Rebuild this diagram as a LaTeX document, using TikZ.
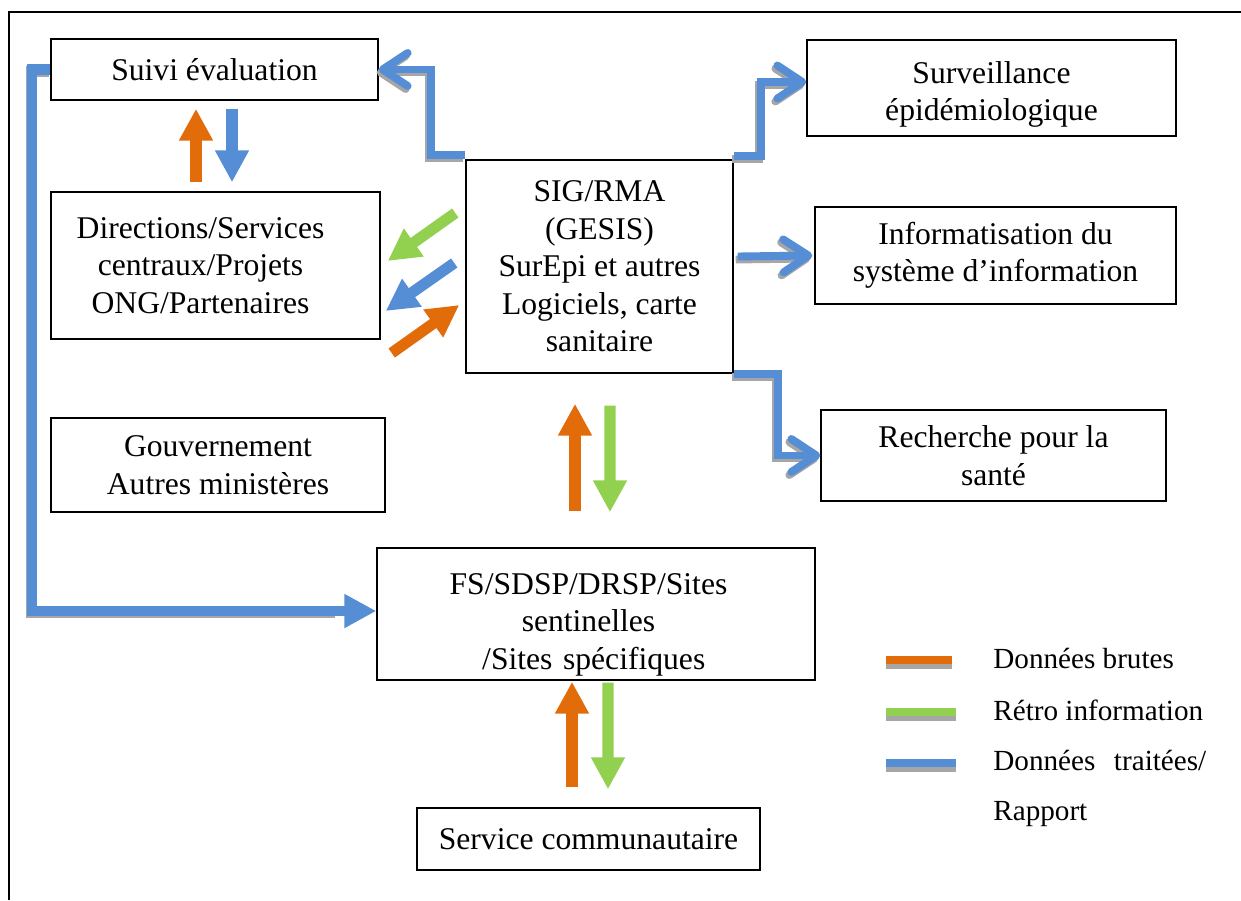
\documentclass[tikz,border=0pt]{standalone}
\usepackage{fontspec}
\setmainfont{Liberation Serif}
\usetikzlibrary{arrows.meta,calc}
\definecolor{orangeB}{RGB}{227,108,10}
\definecolor{vertR}{RGB}{146,208,80}
\definecolor{bleuT}{RGB}{85,142,213}
\definecolor{grisO}{RGB}{166,166,166}

\begin{document}
\begin{tikzpicture}[x=0.02cm, y=-0.02cm,
	boite/.style={draw, line width=0.85pt, inner sep=0pt, align=center, font=\fontsize{18}{21.3}\selectfont},
	legende/.style={inner sep=0pt, anchor=base west, font=\fontsize{16.6}{20}\selectfont},
	brute/.style={draw=orangeB, line width=6.3pt, -{Triangle[length=0.64cm, width=0.64cm]}},
	retro/.style={draw=vertR, line width=6.3pt, -{Triangle[length=0.64cm, width=0.64cm]}},
	traite/.style={draw=bleuT, line width=6.3pt, -{Triangle[length=0.64cm, width=0.64cm]}},
	coude/.style={draw=bleuT, line width=4.5pt, -{Straight Barb[round, length=0.5cm, width=0.66cm]}},
	ombre/.style={draw=grisO, line width=4.5pt, transform canvas={xshift=-0.04cm, yshift=-0.06cm}, -{Straight Barb[round, length=0.5cm, width=0.66cm]}},
	barre/.style={line width=4pt}]
	\useasboundingbox (0,0) rectangle (1241,900);
	% cadre
	\draw[line width=1.7pt] (9,900) -- (9,12) -- (1241,12);
	% boites
	\node[boite, minimum width=6.54cm, minimum height=1.22cm] (suivi)at(214.5,69.5) {Suivi évaluation};
	\node[boite, text width=6.58cm, minimum height=2.94cm] (dir)at(215.5,265.5) {\hspace*{-0.6cm}Directions/Services\\\hspace*{-0.6cm}centraux/Projets\\\hspace*{-0.6cm}ONG/Partenaires};
	\node[boite, minimum width=6.68cm, minimum height=1.88cm] (gouv)at(218,465) {Gouvernement\\Autres ministères};
	\node[boite, minimum width=5.34cm, minimum height=4.26cm] (sig)at(599.5,266.5) {SIG/RMA\\(GESIS)\\SurEpi et autres\\Logiciels, carte\\sanitaire};
	\node[boite, minimum width=7.38cm, minimum height=1.92cm] (surv)at(991.5,88) {\rule{0pt}{20pt}Surveillance\\épidémiologique};
	\node[boite, minimum width=7.22cm, minimum height=1.94cm] (info)at(995.5,255.5) {Informatisation du\\système d’information};
	\node[boite, minimum width=6.9cm, minimum height=1.82cm] (rech)at(993.5,455.5) {Recherche pour la\\santé};
	\node[boite, text width=8.76cm, minimum height=2.64cm] (fs)at(596,614) {\rule{0pt}{24pt}\hspace*{-0.3cm}FS/SDSP/DRSP/Sites\\\hspace*{-0.3cm}sentinelles\\\hspace*{-0.3cm} /Sites spécifiques};
	\node[boite, minimum width=6.86cm, minimum height=1.24cm] (serv)at(588.5,839) {Service communautaire};
	% legende
	\node[legende] (lg1)at(993,668) {Données brutes};
	\node[legende] (lg2)at(993,720) {Rétro information};
	\node[legende] (lg3)at(993,770) {\makebox[4.26cm][s]{Données traitées/}};
	\node[legende] (lg4)at(993,820) {Rapport};
	\draw[barre, grisO] ($(lg1.base west)+(-107,-3)$) -- ++(66,0);
	\draw[barre, orangeB] ($(lg1.base west)+(-107,-8)$) -- ++(66,0);
	\draw[barre, grisO] ($(lg2.base west)+(-107,-3)$) -- ++(70,0);
	\draw[barre, vertR] ($(lg2.base west)+(-107,-8)$) -- ++(70,0);
	\draw[barre, grisO] ($(lg3.base west)+(-107,-2)$) -- ++(70,0);
	\draw[barre, bleuT] ($(lg3.base west)+(-107,-7)$) -- ++(70,0);
	% fleches coudees
	\draw[ombre] ($(sig.north west)+(0,-4)$) -- ++(-34,0) |- (suivi.east);
	\draw[coude] ($(sig.north west)+(0,-4)$) -- ++(-34,0) |- (suivi.east);
	\draw[ombre] ($(sig.north east)+(0,-3)$) -- ++(27,0) |- ($(surv.west)+(0,-6)$);
	\draw[coude] ($(sig.north east)+(0,-3)$) -- ++(27,0) |- ($(surv.west)+(0,-6)$);
	\draw[ombre] ($(sig.east)+(4,-10)$) -- ($(info.west)+(-2,0)$);
	\draw[coude] ($(sig.east)+(4,-10)$) -- ($(info.west)+(-2,0)$);
	\draw[ombre] (sig.south east) -- ++(44,0) |- (rech.west);
	\draw[coude] (sig.south east) -- ++(44,0) |- (rech.west);
	\draw[draw=grisO, line width=5.7pt, transform canvas={xshift=-0.02cm, yshift=-0.04cm}] (suivi.west) -- ++(-18,0) |- ($(fs.west)+(-40,-3)$);
	\draw[draw=bleuT, line width=5.7pt, -{Triangle[length=0.64cm, width=0.64cm]}] (suivi.west) -- ++(-18,0) |- ($(fs.west)+(0,-3)$);
	% fleches droites
	\draw[brute] ($(dir.north)+(-19.5,-9)$) -- ($(suivi.south)+(-18.5,8)$);
	\draw[traite] ($(suivi.south)+(17.5,8)$) -- ($(dir.north)+(16.5,-9)$);
	\draw[retro] ($(sig.west)+(-10,-53.5)$) -- ($(dir.east)+(7,-4.5)$);
	\draw[traite] ($(sig.west)+(-11,-3.5)$) -- ($(dir.east)+(5,45.5)$);
	\draw[brute] ($(dir.east)+(11,87.5)$) -- ($(sig.west)+(-6,38.5)$);
	\draw[brute] ($(fs.north)+(-21,-36)$) -- ($(sig.south)+(-24.5,30)$);
	\draw[retro] ($(sig.south)+(10.5,32)$) -- ($(fs.north)+(14,-35)$);
	\draw[brute] ($(serv.north)+(-16.5,-20)$) -- ($(fs.south)+(-24,1)$);
	\draw[retro] ($(fs.south)+(12,2)$) -- ($(serv.north)+(19.5,-18)$);
\end{tikzpicture}
\end{document}
